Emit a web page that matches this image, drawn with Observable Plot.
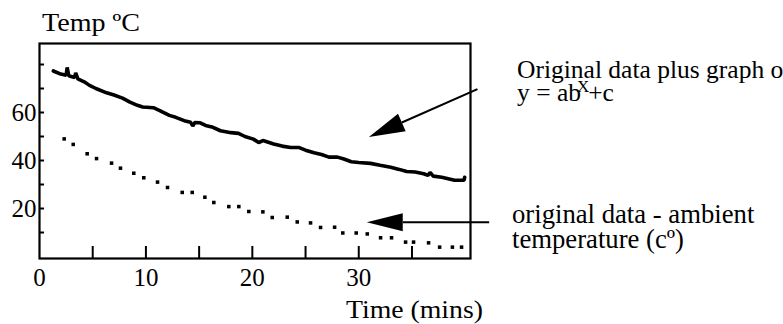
<!DOCTYPE html>
<html>
<head>
<meta charset="utf-8">
<script src="https://cdn.jsdelivr.net/npm/d3@7"></script>
<script src="https://cdn.jsdelivr.net/npm/@observablehq/plot@0.6"></script>
<style>
  html, body { margin: 0; padding: 0; background: #fff; }
  #chart { width: 783px; height: 324px; overflow: hidden; }
</style>
</head>
<body>
<div id="chart"></div>
<script>
// Cooling run: logged temperature with the fitted y = ab^x + c curve over it
const fittedTime = [1.3, 2.0, 2.5, 2.6, 2.75, 3.3, 3.4, 3.6, 4.2, 4.7, 5.3, 6.3, 7.0, 7.8, 8.5, 9.2, 9.7, 10.7, 11.3, 12.2, 12.8, 13.6, 14.2, 14.4, 14.6, 15.1, 15.6, 16.2, 17.0, 18.0, 18.7, 19.3, 20.1, 20.6, 21.0, 22.0, 22.8, 23.6, 24.4, 25.0, 25.8, 26.5, 27.2, 28.0, 28.6, 29.3, 30.0, 31.1, 32.0, 33.0, 33.8, 34.5, 35.3, 36.1, 36.5, 36.7, 37.0, 37.8, 38.5, 39.0, 39.9, 39.95];
const fittedTemp = [77.3, 76.0, 75.5, 78.8, 75.3, 74.6, 76.5, 74.0, 72.8, 71.3, 70.0, 68.2, 67.3, 66.0, 64.3, 63.0, 62.3, 62.0, 60.8, 58.8, 58.0, 56.6, 55.9, 54.4, 55.8, 55.7, 54.6, 54.0, 52.4, 51.6, 51.3, 50.0, 48.9, 47.5, 48.3, 46.9, 46.0, 45.4, 45.4, 44.3, 43.2, 42.5, 41.4, 41.4, 40.6, 39.5, 39.2, 38.8, 38.0, 37.2, 36.3, 35.4, 35.2, 34.5, 33.8, 35.0, 33.5, 33.0, 32.3, 31.8, 31.8, 33.0];

// Same readings with the ambient temperature subtracted
const excessTime = [2.32, 3.17, 4.48, 5.36, 6.77, 7.61, 8.86, 9.8, 11.09, 12.03, 13.41, 14.35, 15.54, 16.38, 17.79, 18.73, 19.67, 20.99, 21.87, 23.28, 24.22, 25.47, 26.41, 27.73, 28.5, 29.76, 30.8, 32.05, 33.08, 34.4, 35.15, 36.56, 37.6, 38.8, 39.66];
const excessTemp = [49.0, 46.7, 42.8, 40.8, 38.9, 36.8, 34.7, 32.8, 31.0, 28.75, 26.7, 26.7, 24.7, 22.5, 20.8, 20.8, 18.75, 18.6, 16.25, 16.4, 14.4, 14.0, 12.1, 12.2, 9.8, 9.8, 9.4, 7.8, 7.8, 6.0, 6.0, 5.7, 3.9, 3.9, 3.9];

// Axis ticks and labels
const xTickValues = [5, 10, 15, 20, 25, 30, 35];
const xTickLabels = [0, 10, 20, 30];
const yTickValues = [10, 20, 30, 40, 50, 60, 70, 80];
const yTickLabels = [20, 40, 60];

const fitted = fittedTime.map((t, i) => ({t, temp: fittedTemp[i]}));
const excess = excessTime.map((t, i) => ({t, temp: excessTemp[i]}));

const serif = "'Liberation Serif', 'Times New Roman', Times, serif";
const W = 783, H = 324;
const M = {left: 39, right: 313, top: 43, bottom: 66};
const innerW = W - M.left - M.right;
const innerH = H - M.top - M.bottom;

const plot = Plot.plot({
  width: W,
  height: H,
  marginLeft: M.left,
  marginRight: M.right,
  marginTop: M.top,
  marginBottom: M.bottom,
  style: {fontFamily: serif, background: "white", color: "black"},
  x: {domain: [0, 40.5], axis: null},
  y: {domain: [-0.83, 88.75], axis: null},
  marks: [
    Plot.tickX(xTickValues, {x: d => d, stroke: "black", strokeWidth: 2, insetTop: innerH - 12}),
    Plot.tickY(yTickValues, {y: d => d, stroke: "black", strokeWidth: 2, insetRight: innerW - 5}),
    Plot.line(fitted, {x: "t", y: "temp", stroke: "black", strokeWidth: 3.6, strokeLinejoin: "miter"}),
    Plot.dot(excess, {x: "t", y: "temp", symbol: "square", r: 2, fill: "black", stroke: "none"}),
    Plot.frame({stroke: "black", strokeWidth: 2.2}),
    Plot.text(xTickLabels, {x: d => d, frameAnchor: "bottom", dy: 27, text: d => String(d), fontSize: 25, fill: "black"}),
    Plot.text(yTickLabels, {y: d => d, frameAnchor: "left", textAnchor: "end", dx: -3, text: d => String(d), fontSize: 25, fill: "black"})
  ]
});

document.getElementById("chart").appendChild(plot);

const svg = d3.select(plot);
const sx = plot.scale("x"), sy = plot.scale("y");

function label(x, y, size, text, width) {
  const t = svg.append("text").attr("x", x).attr("y", y)
    .attr("font-family", serif).attr("font-size", size)
    .attr("text-anchor", "start").attr("fill", "black")
    .text(text);
  if (width) t.attr("textLength", width).attr("lengthAdjust", "spacingAndGlyphs");
  return t;
}

// Axis titles (set slightly wide)
label(42, 31, 25.5, "Temp ºC", 98);
label(346, 318, 25.5, "Time (mins)", 137);

// Callout arrows with filled heads, anchored in data units
function arrow(from, to, headLen, headHalf) {
  const x0 = sx.apply(from[0]), y0 = sy.apply(from[1]);
  const x1 = sx.apply(to[0]), y1 = sy.apply(to[1]);
  const dx = x0 - x1, dy = y0 - y1, len = Math.hypot(dx, dy);
  const ux = dx / len, uy = dy / len;
  const bx = x1 + ux * headLen, by = y1 + uy * headLen;
  svg.append("line").attr("x1", x0).attr("y1", y0).attr("x2", bx).attr("y2", by)
    .attr("stroke", "black").attr("stroke-width", 2);
  svg.append("path")
    .attr("d", `M${x1},${y1}L${bx - uy * headHalf},${by + ux * headHalf}L${bx + uy * headHalf},${by - ux * headHalf}Z`)
    .attr("fill", "black");
}
arrow([41.2, 69.5], [31.0, 49.6], 36, 9.5);
arrow([42.3, 14.1], [30.8, 14.1], 36, 9);

// Callout labels
label(517, 78, 25.5, "Original data plus graph of");
const formula = svg.append("text").attr("x", 517).attr("y", 101)
  .attr("font-family", serif).attr("font-size", 25.5)
  .attr("text-anchor", "start").attr("fill", "black");
formula.append("tspan").text("y = ab");
formula.append("tspan").attr("dx", -4).attr("dy", -9).attr("font-size", 17).text("X");
formula.append("tspan").attr("dx", -1).attr("dy", 9).text("+c");

label(512, 223, 26.7, "original data - ambient");
label(512, 248, 26.7, "temperature (cº)");
</script>
</body>
</html>
